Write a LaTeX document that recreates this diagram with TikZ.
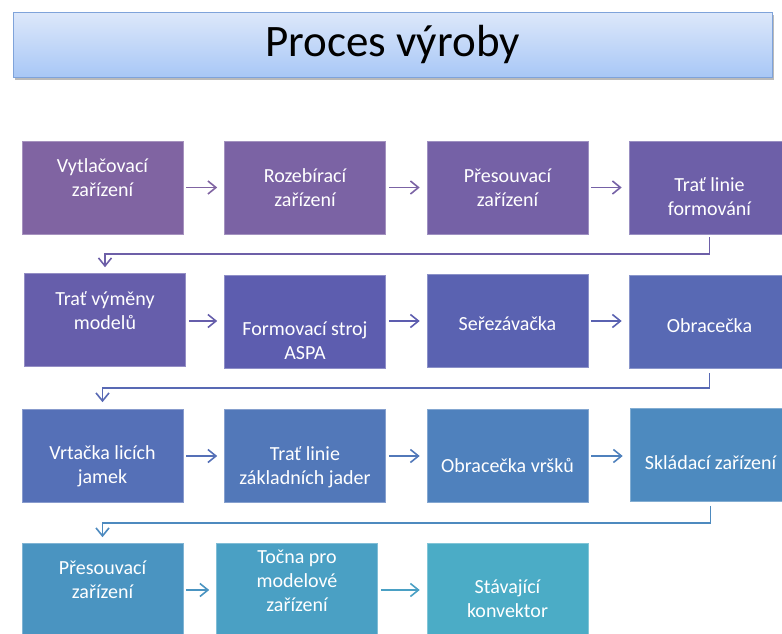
\documentclass[tikz,border=0pt]{standalone}
\usepackage{fontspec}
\setmainfont{Carlito}
\usetikzlibrary{arrows.meta,shadows}
\definecolor{c1}{HTML}{8064A2}
\definecolor{c2}{HTML}{7B63A4}
\definecolor{c3}{HTML}{7561A6}
\definecolor{c4}{HTML}{6D5FA8}
\definecolor{c5}{HTML}{665EAB}
\definecolor{c6}{HTML}{5D5DAF}
\definecolor{c7}{HTML}{5A62B1}
\definecolor{c8}{HTML}{5869B4}
\definecolor{c9}{HTML}{5570B7}
\definecolor{c10}{HTML}{5278B9}
\definecolor{c11}{HTML}{4F81BD}
\definecolor{c12}{HTML}{4D8ABF}
\definecolor{c13}{HTML}{4A94C1}
\definecolor{c14}{HTML}{4AA0C4}
\definecolor{c15}{HTML}{4BACC6}
\definecolor{ttop}{HTML}{DDE8FA}
\definecolor{tbot}{HTML}{A8C7F6}
\definecolor{tborder}{HTML}{7FA3DA}
\tikzset{
  box/.style={rectangle, minimum width=161pt, minimum height=93pt, inner sep=0pt, draw=#1!70!white, line width=0.6pt, fill=#1},
  txt/.style={text=white, align=center, font=\fontsize{20}{24}\selectfont, inner sep=0pt},
  arr/.style={draw=#1, line width=1.6pt, -{Straight Barb[length=8pt,width=13pt,line width=1.6pt]}, shorten <=3pt, shorten >=7pt},
}
\begin{document}
\begin{tikzpicture}[x=1pt,y=-1pt]
\useasboundingbox (0,0) rectangle (782,633);
\clip (0,0) rectangle (782,633);
% title
\node[rectangle, minimum width=759pt, minimum height=65pt, inner sep=0pt,
      top color=ttop, bottom color=tbot, draw=tborder, line width=1pt,
      drop shadow={shadow xshift=1.5pt, shadow yshift=-2.5pt, opacity=0.45, fill=black!60},
      font=\fontsize{45}{50}\selectfont] (title) at (392.5,44.5) {Proces výroby};
% boxes
\node[box=c1] (b1) at (102.5,187.5) {};
\node[box=c2] (b2) at (305,187.5) {};
\node[box=c3] (b3) at (507.5,187.5) {};
\node[box=c4] (b4) at (709.5,187.5) {};
\node[box=c5] (b5) at (105,320) {};
\node[box=c6] (b6) at (305,321.5) {};
\node[box=c7] (b7) at (507.5,320.5) {};
\node[box=c8] (b8) at (709.5,321.5) {};
\node[box=c9] (b9) at (102.5,456) {};
\node[box=c10] (b10) at (305,456) {};
\node[box=c11] (b11) at (507.5,456) {};
\node[box=c12] (b12) at (710.5,455) {};
\node[box=c13] (b13) at (102.5,590) {};
\node[box=c14] (b14) at (297,590) {};
\node[box=c15] (b15) at (507.5,590) {};
% texts
\node[txt, yshift=10pt] (t1) at (b1.center) {Vytlačovací\\zařízení};
\node[txt, yshift=0pt] (t2) at (b2.center) {Rozebírací\\zařízení};
\node[txt, yshift=0pt] (t3) at (b3.center) {Přesouvací\\zařízení};
\node[txt, yshift=-9pt] (t4) at (b4.center) {Trať linie\\formování};
\node[txt, yshift=9pt] (t5) at (b5.center) {Trať výměny\\modelů};
\node[txt, yshift=-19pt] (t6) at (b6.center) {Formovací stroj\\ASPA};
\node[txt, yshift=-3pt] (t7) at (b7.center) {Seřezávačka};
\node[txt, yshift=-4pt] (t8) at (b8.center) {Obracečka};
\node[txt, yshift=-10pt] (t9) at (b9.center) {Vrtačka licích\\jamek};
\node[txt, yshift=-11pt] (t10) at (b10.center) {Trať linie\\základních jader};
\node[txt, yshift=-9pt] (t11) at (b11.center) {Obracečka vršků};
\node[txt, yshift=-8pt] (t12) at (b12.center) {Skládací zařízení};
\node[txt, yshift=10pt] (t13) at (b13.center) {Přesouvací\\zařízení};
\node[txt, yshift=9pt] (t14) at (b14.center) {Točna pro\\modelové\\zařízení};
\node[txt, yshift=-9pt] (t15) at (b15.center) {Stávající\\konvektor};
% arrows
\draw[arr=c1] (b1) -- (b2);
\draw[arr=c2] (b2) -- (b3);
\draw[arr=c3] (b3) -- (b4);
\draw[arr=c5] (b5.east |- 0,321) -- (b6.west |- 0,321);
\draw[arr=c6] (b6.east |- 0,321) -- (b7.west |- 0,321);
\draw[arr=c7] (b7.east |- 0,321) -- (b8.west |- 0,321);
\draw[arr=c9] (b9) -- (b10);
\draw[arr=c10] (b10) -- (b11);
\draw[arr=c11] (b11.east |- 0,456) -- (b12.west |- 0,456);
\draw[arr=c13] (b13) -- (b14);
\draw[arr=c14] (b14) -- (b15);
% row connectors
\coordinate (m1) at (400,254);
\coordinate (m2) at (400,388);
\coordinate (m3) at (400,523);
\draw[arr=c4, shorten <=3pt, shorten >=6pt] (b4.south) |- (m1) -| (b5.north);
\draw[arr=c8, shorten <=5pt, shorten >=7pt] (b8.south) |- (m2) -| (b9.north);
\draw[arr=c12, shorten <=4pt, shorten >=6pt] (b12.south) |- (m3) -| (b13.north);
\end{tikzpicture}
\end{document}
